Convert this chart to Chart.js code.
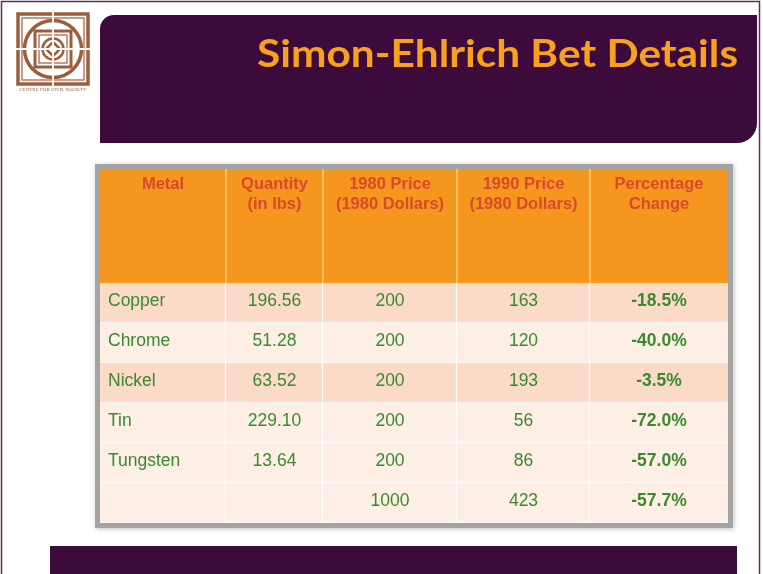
<!DOCTYPE html>
<html>
<head>
<meta charset="utf-8">
<script src="https://cdn.jsdelivr.net/npm/chart.js@4"></script>
<style>
html,body{margin:0;padding:0;background:#fff;}
canvas{display:block;}
</style>
</head>
<body>
<canvas id="c" width="763" height="574"></canvas>
<script>
// ---- data ----
const titleText = 'Simon-Ehlrich Bet Details';
const logoCaption = 'CENTRE FOR CIVIL SOCIETY';
const headerLines = [['Metal'], ['Quantity', '(in lbs)'], ['1980 Price', '(1980 Dollars)'], ['1990 Price', '(1980 Dollars)'], ['Percentage', 'Change']];
const metals = ['Copper', 'Chrome', 'Nickel', 'Tin', 'Tungsten', ''];
const quantityLbs = [196.56, 51.28, 63.52, 229.10, 13.64, null];
const price1980 = [200, 200, 200, 200, 200, 1000];
const price1990 = [163, 120, 193, 56, 86, 423];
const pctChange = [-18.5, -40.0, -3.5, -72.0, -57.0, -57.7];

// ---- layout / style ----
const colWidths = [126, 97, 134, 133, 138];
const totalWidth = colWidths.reduce((a, b) => a + b, 0);
const headerHeight = 114;
const purple = '#3d0b3b';
const rowFill = ['#fbdac8', '#fdeee6', '#fbdac8', '#fdeee6', '#fdeee6', '#fdeee6'];
const green = '#3b8a2e';

function cellText(col, row) {
  if (col === 0) return metals[row];
  if (col === 1) return quantityLbs[row] == null ? '' : quantityLbs[row].toFixed(2);
  if (col === 2) return String(price1980[row]);
  if (col === 3) return String(price1990[row]);
  return pctChange[row].toFixed(1) + '%';
}

function drawLogo(ctx) {
  const cx = 53, cy = 49, brown = '#9e5d3c';
  ctx.save();
  ctx.strokeStyle = brown;
  ctx.lineWidth = 3.5;
  ctx.strokeRect(cx - 35, cy - 35, 70, 70);
  ctx.lineWidth = 1.2;
  ctx.strokeRect(cx - 31, cy - 31, 62, 62);
  ctx.lineWidth = 3.5;
  ctx.beginPath(); ctx.arc(cx, cy, 28.5, 0, Math.PI * 2); ctx.stroke();
  ctx.lineWidth = 3;
  ctx.strokeRect(cx - 18, cy - 18, 36, 36);
  ctx.lineWidth = 1.2;
  ctx.strokeRect(cx - 14, cy - 14, 28, 28);
  ctx.lineWidth = 2.5;
  ctx.beginPath(); ctx.arc(cx, cy, 10.5, 0, Math.PI * 2); ctx.stroke();
  ctx.beginPath();
  ctx.moveTo(cx, cy - 7); ctx.lineTo(cx + 7, cy); ctx.lineTo(cx, cy + 7); ctx.lineTo(cx - 7, cy); ctx.closePath();
  ctx.lineWidth = 2.5; ctx.stroke();
  ctx.strokeStyle = '#ffffff';
  ctx.lineWidth = 1.8;
  ctx.beginPath();
  ctx.moveTo(cx, cy - 38); ctx.lineTo(cx, cy + 38);
  ctx.moveTo(cx - 38, cy); ctx.lineTo(cx + 38, cy);
  ctx.stroke();
  ctx.fillStyle = brown;
  ctx.font = '5px "Liberation Serif"';
  ctx.textAlign = 'center';
  ctx.textBaseline = 'middle';
  ctx.fillText(logoCaption, cx, 90);
  ctx.restore();
}

const decor = {
  id: 'decor',
  beforeDraw(chart) {
    const ctx = chart.ctx;
    ctx.save();
    ctx.fillStyle = '#ffffff';
    ctx.fillRect(0, 0, chart.width, chart.height);
    // page frame
    ctx.strokeStyle = '#5b2d5a';
    ctx.lineWidth = 1.5;
    ctx.beginPath();
    ctx.moveTo(1.5, chart.height); ctx.lineTo(1.5, 1.5); ctx.lineTo(759.5, 1.5); ctx.lineTo(759.5, chart.height);
    ctx.stroke();
    // title band
    ctx.fillStyle = purple;
    ctx.beginPath();
    ctx.roundRect(100, 15, 657, 128, [14, 0, 20, 0]);
    ctx.fill();
    // bottom band
    ctx.fillRect(50, 546, 687, 40);
    // title
    ctx.font = 'bold 38px Lato';
    ctx.fillStyle = '#f7a11c';
    ctx.textBaseline = 'alphabetic';
    ctx.textAlign = 'left';
    const w = ctx.measureText(titleText).width;
    const target = 481;
    ctx.translate(257, 67);
    ctx.scale(target / w, 1);
    ctx.fillText(titleText, 0, 0);
    ctx.restore();
    drawLogo(ctx);

    // table frame + header
    const xs = chart.scales.x, area = chart.chartArea;
    const left = xs.getPixelForValue(0), right = xs.getPixelForValue(totalWidth);
    const top = area.top - headerHeight, bottom = area.bottom;
    ctx.save();
    ctx.shadowColor = 'rgba(0,0,0,0.25)';
    ctx.shadowBlur = 5;
    ctx.shadowOffsetX = 1;
    ctx.shadowOffsetY = 1;
    ctx.strokeStyle = '#a4a4a4';
    ctx.lineWidth = 5;
    ctx.strokeRect(left - 2.5, top - 2.5, right - left + 5, bottom - top + 5);
    ctx.restore();
    ctx.save();
    ctx.fillStyle = '#f5961f';
    ctx.fillRect(left, top, right - left, headerHeight);
    let acc = 0;
    ctx.font = 'bold 16.5px "Liberation Sans"';
    ctx.fillStyle = '#d74a2b';
    ctx.textAlign = 'center';
    ctx.textBaseline = 'middle';
    for (let i = 0; i < colWidths.length; i++) {
      const x0 = xs.getPixelForValue(acc);
      acc += colWidths[i];
      const x1 = xs.getPixelForValue(acc);
      headerLines[i].forEach((t, k) => ctx.fillText(t, (x0 + x1) / 2, top + 15 + k * 20));
      if (i < colWidths.length - 1) {
        ctx.strokeStyle = 'rgba(255,225,170,0.9)';
        ctx.lineWidth = 1.2;
        ctx.beginPath(); ctx.moveTo(x1, top); ctx.lineTo(x1, area.top); ctx.stroke();
      }
    }
    ctx.restore();
  },
  afterDatasetsDraw(chart) {
    const ctx = chart.ctx;
    ctx.save();
    ctx.fillStyle = green;
    ctx.textBaseline = 'middle';
    chart.data.datasets.forEach((ds, col) => {
      const meta = chart.getDatasetMeta(col);
      meta.data.forEach((bar, row) => {
        const t = cellText(col, row);
        if (!t) return;
        const x0 = Math.min(bar.base, bar.x), x1 = Math.max(bar.base, bar.x);
        ctx.font = (col === 4 ? 'bold ' : '') + '17.5px "Liberation Sans"';
        if (col === 0) { ctx.textAlign = 'left'; ctx.fillText(t, x0 + 8, bar.y - 2); }
        else { ctx.textAlign = 'center'; ctx.fillText(t, (x0 + x1) / 2, bar.y - 2); }
      });
    });
    ctx.restore();
  }
};

new Chart(document.getElementById('c').getContext('2d'), {
  type: 'bar',
  data: {
    labels: metals,
    datasets: headerLines.map((h, i) => ({
      label: h.join(' '),
      data: metals.map(() => colWidths[i]),
      backgroundColor: (c) => rowFill[c.dataIndex],
      borderColor: 'rgba(255,255,255,0.85)',
      borderWidth: i < headerLines.length - 1 ? { right: 1.5, bottom: 1 } : { bottom: 1 },
      borderSkipped: false,
      barPercentage: 1,
      categoryPercentage: 1
    }))
  },
  options: {
    indexAxis: 'y',
    responsive: false,
    animation: false,
    devicePixelRatio: 1,
    layout: { padding: { left: 100, right: 35, top: 283, bottom: 51 } },
    scales: {
      x: { type: 'linear', stacked: true, min: 0, max: totalWidth, display: false },
      y: { stacked: true, display: false }
    },
    plugins: { legend: { display: false }, tooltip: { enabled: false } }
  },
  plugins: [decor]
});
</script>
</body>
</html>
